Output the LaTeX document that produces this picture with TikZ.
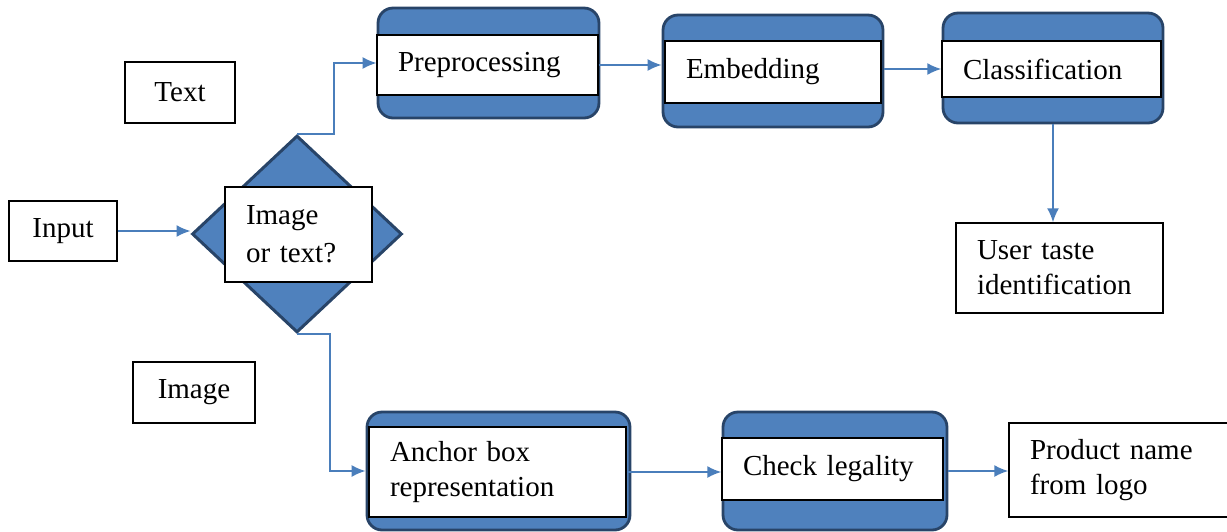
\documentclass[tikz,border=0pt]{standalone}
\usepackage{fontspec}
\setmainfont{Liberation Serif}
\usetikzlibrary{shapes.geometric,arrows.meta}
\definecolor{boxblue}{RGB}{79,129,189}
\definecolor{edgeblue}{RGB}{40,68,104}
\definecolor{lineblue}{RGB}{74,126,187}

\begin{document}
\begin{tikzpicture}[x=0.02cm,y=-0.02cm,
  font=\fontsize{16.5}{20}\selectfont,
  rbox/.style={draw=edgeblue,fill=boxblue,line width=1.6pt,rounded corners=0.3cm,inner sep=0pt},
  wbox/.style={draw=black,fill=white,line width=0.8pt,align=left,inner xsep=0.42cm,inner ysep=0pt},
  lbox/.style={draw=black,line width=0.8pt,inner xsep=0.42cm,inner ysep=0pt},
  conn/.style={draw=lineblue,line width=1pt,-{Latex[length=0.28cm,width=0.24cm]}}]
\useasboundingbox (0,0) rectangle (1227,531);

\node[lbox,minimum width=2.2cm,minimum height=1.22cm] (textlbl) at (180,92.5) {Text};
\node[lbox,minimum width=2.16cm,minimum height=1.2cm] (input) at (63,231) {Input};
\node[lbox,minimum width=2.44cm,minimum height=1.22cm] (imglbl) at (194,392.5) {Image};

\node[diamond,draw=edgeblue,fill=boxblue,line width=1.7pt,inner sep=0pt,
      minimum width=4.2cm,minimum height=3.94cm] (dec) at (297,234) {};
\node[wbox,text width=2.1cm,minimum height=1.9cm,font=\fontsize{16.5}{21.5}\selectfont]
      (decbox) at (298.5,234.5) {Image\\or text?};

%-------------------------------------
\node[rbox,minimum width=4.42cm,minimum height=2.2cm] (prepbg) at (488.5,63) {};
\node[wbox,text width=3.58cm,minimum height=1.2cm] (prep) at (487.5,65) {Preprocessing};

\node[rbox,minimum width=4.4cm,minimum height=2.24cm] (embbg) at (773,71) {};
\node[wbox,text width=3.48cm,minimum height=1.24cm] (emb) at (773,72) {Embedding};

\node[rbox,minimum width=4.4cm,minimum height=2.2cm] (clsbg) at (1053,68) {};
\node[wbox,text width=3.54cm,minimum height=1.12cm] (cls) at (1051.5,69) {Classification};

\node[lbox,align=left,text width=3.3cm,minimum height=1.8cm] (user) at (1059.5,268) {User taste\\identification};

%-------------------------------------
\node[rbox,minimum width=5.26cm,minimum height=2.36cm] (anchbg) at (498.5,471) {};
\node[wbox,text width=4.3cm,minimum height=1.8cm] (anch) at (497.5,472) {Anchor box\\representation};

\node[rbox,minimum width=4.48cm,minimum height=2.36cm] (chkbg) at (835,471) {};
\node[wbox,text width=3.58cm,minimum height=1.24cm] (chk) at (832.5,469) {Check legality};

\node[lbox,align=left,text width=4.6cm,minimum height=1.88cm] (prod) at (1145,470) {Product name\\from logo};

%-------------------------------------
\draw[conn] (input.east) -- (input.east -| dec.west);
\draw[conn] (dec.north) -- ++(37,0) |- (prepbg.west);
\draw[conn] (dec.south) -- ++(33,0) |- (anchbg.west);
\draw[conn] (prep.east) -- (prep.east -| embbg.west);
\draw[conn] (embbg.east |- cls.west) -- (cls.west);
\draw[conn] (clsbg.south) -- (clsbg.south |- user.north);
\draw[conn] (anch.east) -- (anch.east -| chk.west);
\draw[conn] (chkbg.east) -- (chkbg.east -| prod.west);
\end{tikzpicture}
\end{document}
